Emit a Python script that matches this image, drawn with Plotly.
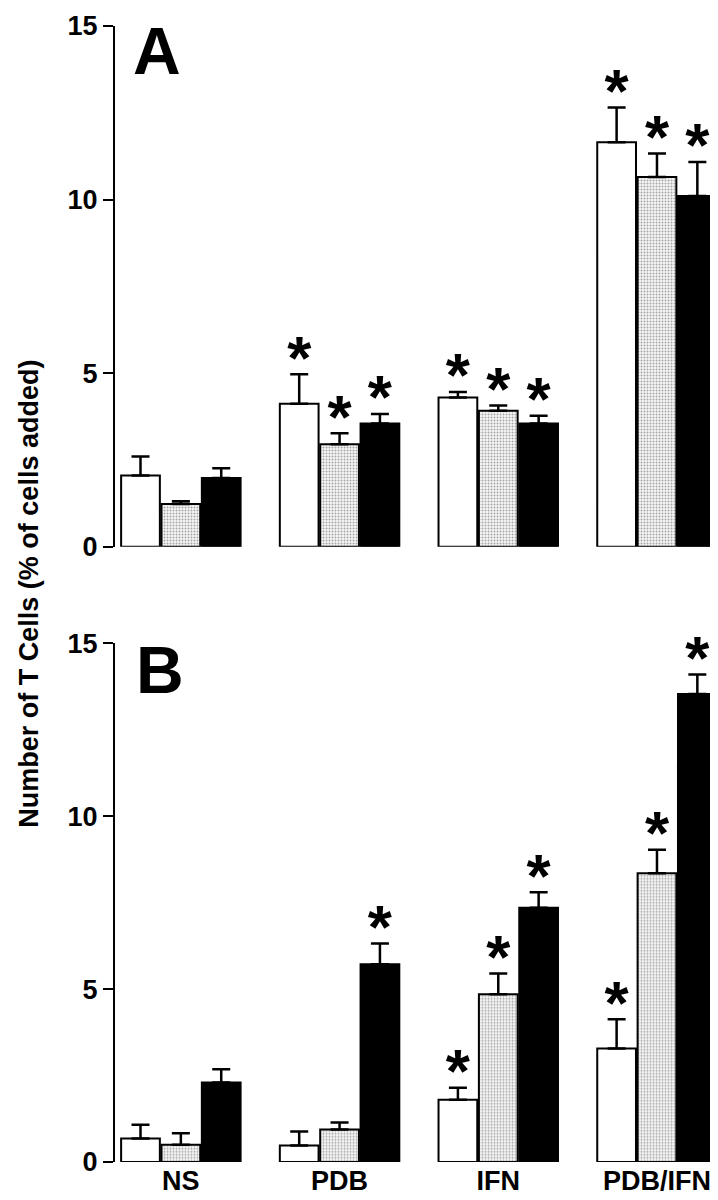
import plotly.graph_objects as go
from plotly.subplots import make_subplots

categories = ["NS", "PDB", "IFN", "PDB/IFN"]
tick_vals_y = [0, 5, 10, 15]

# Panel A
a_white = [2.05, 4.12, 4.30, 11.65]
a_white_err = [0.55, 0.85, 0.16, 1.00]
a_gray = [1.23, 2.95, 3.92, 10.65]
a_gray_err = [0.08, 0.32, 0.15, 0.68]
a_black = [1.98, 3.55, 3.55, 10.10]
a_black_err = [0.28, 0.27, 0.22, 0.98]
a_sig_white = [False, True, True, True]
a_sig_gray = [False, True, True, True]
a_sig_black = [False, True, True, True]

# Panel B
b_white = [0.68, 0.48, 1.80, 3.28]
b_white_err = [0.40, 0.40, 0.35, 0.85]
b_gray = [0.50, 0.94, 4.85, 8.35]
b_gray_err = [0.33, 0.20, 0.60, 0.68]
b_black = [2.30, 5.72, 7.35, 13.53]
b_black_err = [0.38, 0.60, 0.45, 0.57]
b_sig_white = [False, False, True, True]
b_sig_gray = [False, False, True, True]
b_sig_black = [False, True, True, True]

FONT = "Liberation Sans, Arial, Helvetica, sans-serif"
STAR_PAD = 0.32  # gap between error cap and asterisk, in axis units

fig = make_subplots(rows=2, cols=1, shared_xaxes=False, vertical_spacing=0.0)

def add_panel(row, series):
    for i, (vals, errs, sig, style) in enumerate(series):
        marker = dict(line=dict(color="black", width=2))
        if style == "white":
            marker["color"] = "white"
        elif style == "gray":
            marker["color"] = "white"
            marker["pattern"] = dict(shape=".", fgcolor="#555555", bgcolor="#f6f6f6",
                                     size=3, solidity=0.35)
        else:
            marker["color"] = "black"
        fig.add_trace(go.Bar(
            x=categories, y=vals, marker=marker, offsetgroup=str(i),
            error_y=dict(type="data", array=errs, arrayminus=[0] * len(errs),
                         symmetric=False, color="black", thickness=2.5, width=9),
            showlegend=False,
        ), row=row, col=1)
        tops = [v + e + STAR_PAD for v, e in zip(vals, errs)]
        fig.add_trace(go.Scatter(
            x=categories, y=tops, mode="text", offsetgroup=str(i),
            text=["*" if s else "" for s in sig],
            textposition="middle center",
            textfont=dict(family=FONT, size=62, color="black", weight="bold"),
            cliponaxis=False, showlegend=False,
        ), row=row, col=1)

add_panel(1, [(a_white, a_white_err, a_sig_white, "white"),
              (a_gray, a_gray_err, a_sig_gray, "gray"),
              (a_black, a_black_err, a_sig_black, "black")])
add_panel(2, [(b_white, b_white_err, b_sig_white, "white"),
              (b_gray, b_gray_err, b_sig_gray, "gray"),
              (b_black, b_black_err, b_sig_black, "black")])

H_TOP = 13
H_BOT = 46
plot_h = 1200 - H_TOP - H_BOT
domA = [(1154 - 536) / plot_h, 1.0]
domB = [0.0, (1154 - 633) / plot_h]

yax = dict(range=[0, 15], tickvals=tick_vals_y, showline=True, linecolor="black",
           linewidth=2, ticks="outside", ticklen=10, tickwidth=2, tickcolor="black",
           showgrid=False, zeroline=False,
           tickfont=dict(family=FONT, size=27, color="black", weight="bold"))
xax = dict(range=[-0.415, 3.416], showline=False, showgrid=False, zeroline=False,
           ticks="")

fig.update_layout(
    width=718, height=1200,
    margin=dict(l=107, r=3, t=H_TOP, b=H_BOT),
    plot_bgcolor="white", paper_bgcolor="white",
    barmode="group", bargap=0.237, bargroupgap=0.04,
    scattermode="group", scattergap=0.237,
    font=dict(family=FONT, color="black"),
    yaxis=dict(domain=domA, **yax),
    yaxis2=dict(domain=domB, **yax),
    xaxis=dict(showticklabels=False, **xax),
    xaxis2=dict(showticklabels=True,
                tickfont=dict(family=FONT, size=27, color="black", weight="bold"), **xax),
)

fig.add_annotation(text="Number of T Cells (% of cells added)", textangle=-90,
                   xref="paper", yref="paper", x=-0.142, y=0.5,
                   xanchor="center", yanchor="middle", showarrow=False,
                   font=dict(family=FONT, size=27, color="black", weight="bold"))
fig.add_annotation(text="A", xref="paper", yref="paper", x=(123 - 107) / 608,
                   y=domA[1], xanchor="left", yanchor="top", yshift=14, showarrow=False,
                   font=dict(family=FONT, size=66, color="black", weight="bold"))
fig.add_annotation(text="B", xref="paper", yref="paper", x=(126 - 107) / 608,
                   y=domB[1], xanchor="left", yanchor="top", yshift=12, showarrow=False,
                   font=dict(family=FONT, size=66, color="black", weight="bold"))

fig.write_html("out.html")
